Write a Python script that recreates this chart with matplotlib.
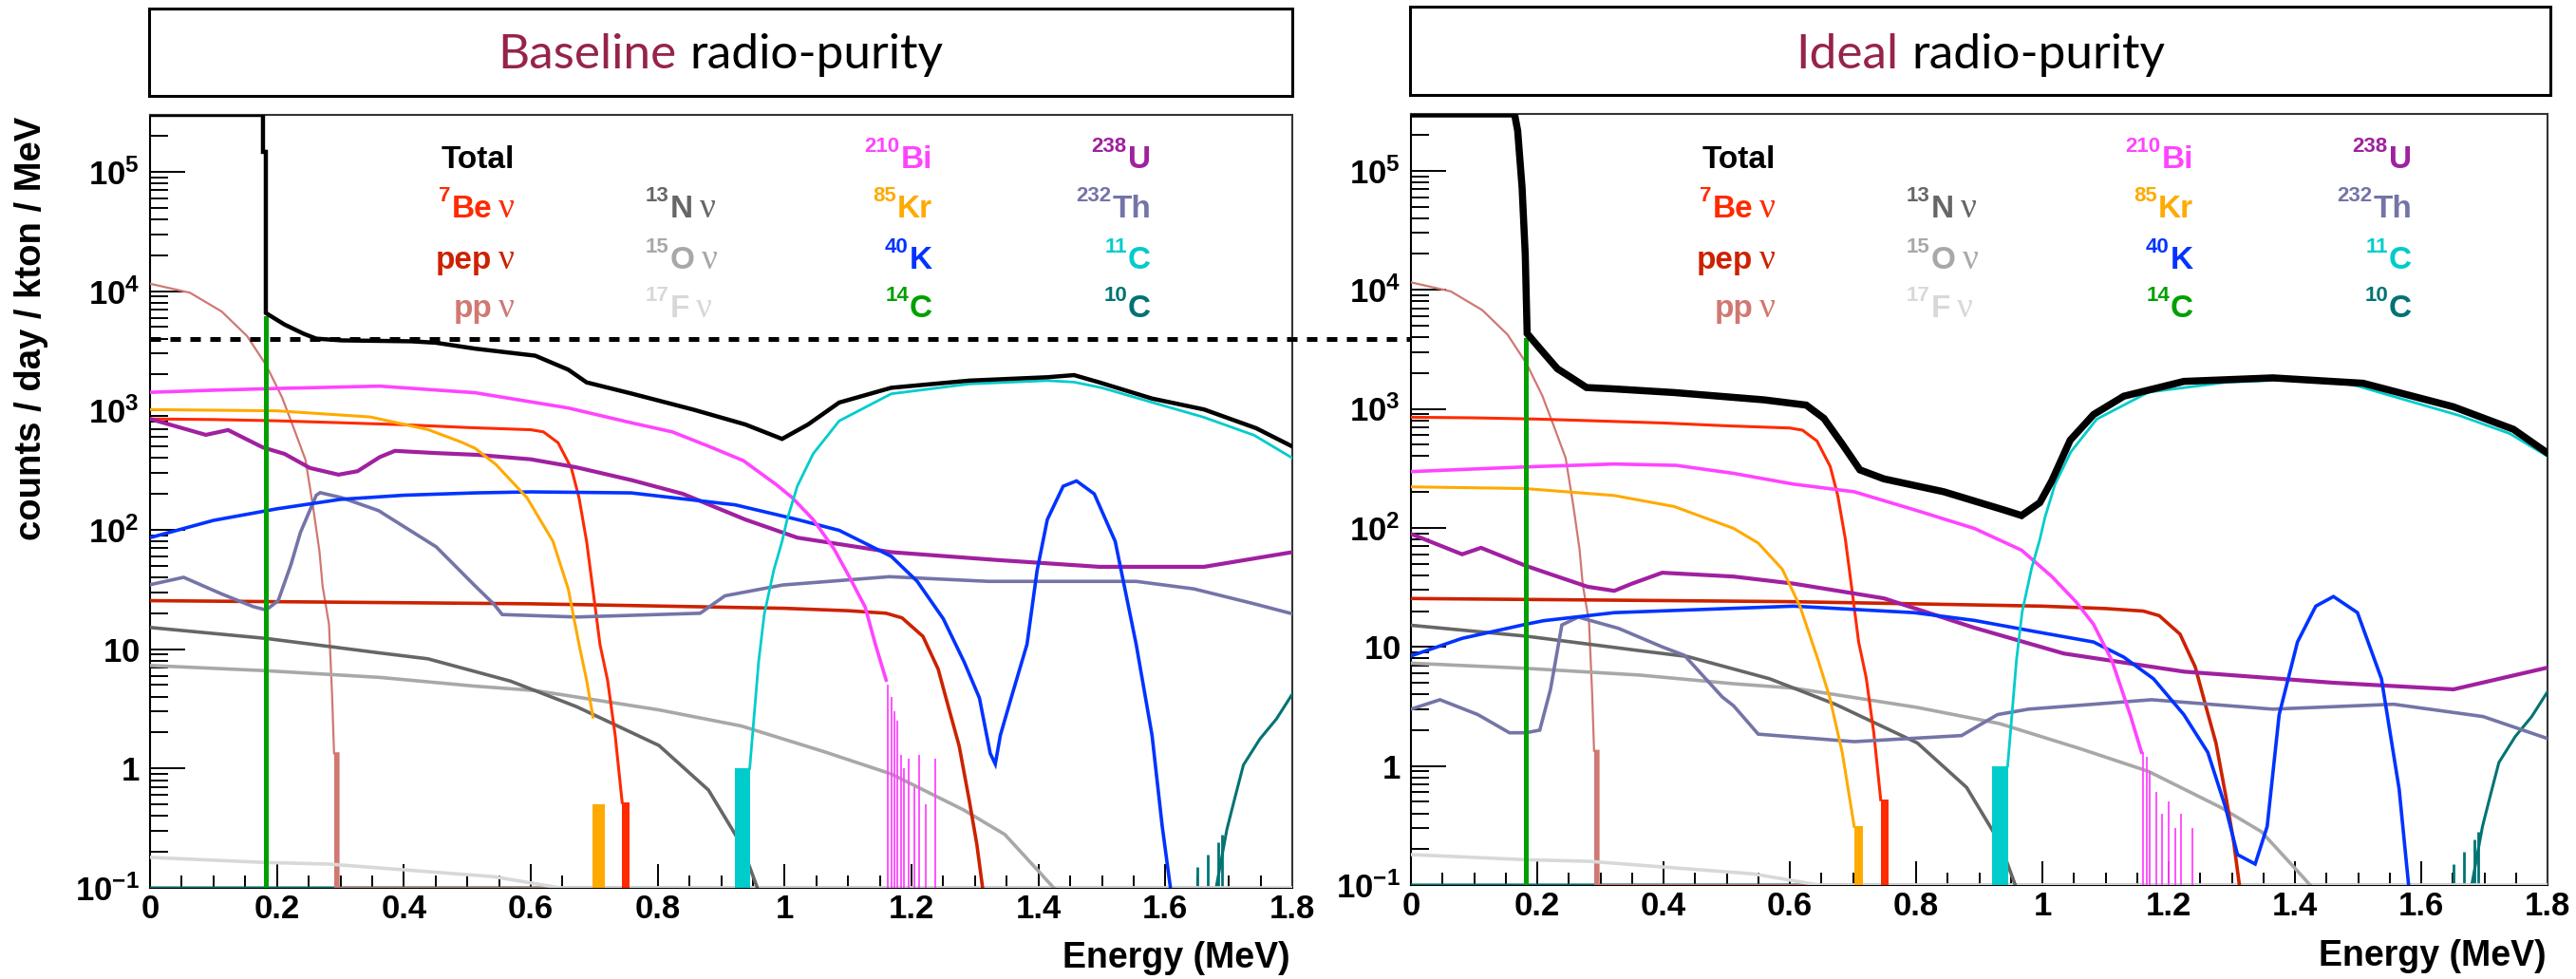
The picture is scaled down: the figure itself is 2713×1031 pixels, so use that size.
import numpy as np
import matplotlib
matplotlib.use('Agg')
import matplotlib.pyplot as plt
from matplotlib.transforms import blended_transform_factory
from matplotlib.ticker import FixedLocator, MultipleLocator, NullFormatter, FixedFormatter
from matplotlib.patches import Rectangle

# ------------------------------------------------------------------ data
# energies in MeV, rates in counts / day / kton / MeV
threshold = 4000.0

# --- species identical in both panels (solar neutrinos, cosmogenics)
be7_E = [0, 0.1, 0.2, 0.3, 0.4, 0.5, 0.6, 0.62, 0.643, 0.664, 0.676, 0.688, 0.700, 0.709, 0.721, 0.733, 0.744]
be7_Y = [850, 840, 820, 790, 760, 720, 690, 662, 537, 328, 186, 80, 26, 11, 5.5, 1.9, 0.52]
be7_block = [0.744, 0.756, 0.52]

pep_E = [0, 0.2, 0.4, 0.6, 0.8, 1.0, 1.1, 1.16, 1.185, 1.218, 1.242, 1.258, 1.275, 1.291, 1.303, 1.312]
pep_Y = [25.5, 25, 24.5, 24, 23, 22, 21, 20, 18.3, 12.8, 6.8, 3.3, 1.55, 0.54, 0.23, 0.1]

pp_E = [0, 0.063, 0.113, 0.153, 0.183, 0.208, 0.227, 0.245, 0.257, 0.267, 0.272, 0.282, 0.287, 0.290, 0.297, 0.297, 1.8]
pp_Y = [11550, 9700, 6750, 4200, 2400, 1290, 700, 386, 155, 66, 33.6, 16.2, 4.0, 1.34, 1.34, 0.1, 0.1]
pp_block = [0.290, 0.297, 1.34]

n13_E = [0, 0.183, 0.362, 0.438, 0.568, 0.672, 0.802, 0.88, 0.932, 0.957]
n13_Y = [15.2, 12.3, 9.3, 8.3, 5.4, 3.3, 1.56, 0.66, 0.23, 0.1]

o15_E = [0, 0.183, 0.362, 0.512, 0.607, 0.802, 0.932, 1.061, 1.168, 1.282, 1.347, 1.399, 1.424]
o15_Y = [7.3, 6.6, 5.8, 4.9, 4.5, 3.1, 2.27, 1.39, 0.9, 0.45, 0.28, 0.14, 0.1]

f17_E = [0, 0.183, 0.283, 0.542, 0.646, 1.8]
f17_Y = [0.18, 0.163, 0.158, 0.124, 0.1, 0.1]

c11_E = [0.945, 0.951, 0.959, 0.968, 0.983, 0.996, 1.004, 1.02, 1.045, 1.086, 1.168, 1.291, 1.414, 1.456, 1.5, 1.58, 1.66, 1.74, 1.8]
c11_Y = [1.0, 2.4, 7.8, 19.7, 46, 80, 122, 232, 434, 818, 1380, 1670, 1780, 1730, 1550, 1166, 880, 620, 400]
c11_block = [0.921, 0.946, 1.0]

c10_E = [0, 1.68, 1.697, 1.71, 1.723, 1.749, 1.775, 1.8]
c10_Y = [0.1, 0.1, 0.31, 0.58, 1.07, 1.77, 2.6, 4.2]
c10_spike_E = [1.651, 1.667, 1.684, 1.690]
c10_spike_Y = [0.15, 0.19, 0.24, 0.28]

# --- Baseline radio-purity panel
total_L_E = [0, 0.178, 0.178, 0.1825, 0.1825, 0.212, 0.242, 0.262, 0.302, 0.412, 0.45, 0.512, 0.607, 0.659, 0.688,
             0.758, 0.856, 0.938, 0.996, 1.037, 1.086, 1.168, 1.291, 1.414, 1.456, 1.496, 1.579, 1.661, 1.743, 1.8]
total_L_Y = [3.0e5, 3.0e5, 1.47e5, 1.47e5, 6560, 5250, 4400, 4000, 3870, 3800, 3700, 3300, 2880, 2200, 1720,
             1390, 1018, 764, 578, 764, 1166, 1550, 1780, 1900, 1980, 1720, 1260, 1020, 711, 500]

bi210_L_E = [0, 0.1, 0.2, 0.362, 0.512, 0.659, 0.758, 0.823, 0.881, 0.935, 0.987, 1.012, 1.045, 1.078, 1.103, 1.127, 1.143, 1.16]
bi210_L_Y = [1420, 1480, 1530, 1600, 1410, 1050, 790, 662, 500, 380, 239, 186, 122, 69, 39.5, 22.5, 11, 5.5]
bi210_L_spike_E = [1.163, 1.168, 1.173, 1.178, 1.183, 1.188, 1.196, 1.204, 1.212, 1.222, 1.238]
bi210_L_spike_Y = [5.0, 4.0, 3.0, 2.5, 1.3, 1.0, 1.2, 0.7, 1.3, 0.5, 1.2]

kr85_L_E = [0, 0.2, 0.347, 0.438, 0.49, 0.512, 0.545, 0.594, 0.635, 0.659, 0.676, 0.688, 0.698]
kr85_L_Y = [1018, 994, 883, 692, 545, 483, 353, 186, 80, 32, 11, 5.5, 2.7]
kr85_L_block = [0.698, 0.717, 0.5]

k40_L_E = [0, 0.1, 0.2, 0.3, 0.4, 0.512, 0.6, 0.758, 0.922, 1.02, 1.086, 1.168, 1.209, 1.25, 1.283, 1.307, 1.324,
           1.332, 1.34, 1.357, 1.382, 1.398, 1.414, 1.439, 1.46, 1.488, 1.521, 1.554, 1.579, 1.595, 1.608]
k40_L_Y = [86, 120, 150, 180, 195, 204, 208, 204, 162, 122, 99, 60, 37, 18, 7.8, 3.9, 1.34,
           1.09, 1.9, 3.9, 11, 46, 122, 232, 257, 200, 80, 11, 1.9, 0.33, 0.1]

u238_L_E = [0, 0.088, 0.123, 0.178, 0.212, 0.252, 0.297, 0.327, 0.362, 0.386, 0.45, 0.516, 0.6, 0.672, 0.76,
            0.84, 0.938, 1.02, 1.168, 1.332, 1.496, 1.661, 1.8]
u238_L_Y = [850, 625, 686, 490, 433, 330, 290, 310, 407, 459, 440, 425, 390, 334, 260,
            200, 122, 86, 65, 56, 49, 49, 65]

th232_L_E = [0, 0.053, 0.113, 0.163, 0.183, 0.202, 0.222, 0.237, 0.262, 0.268, 0.302, 0.36, 0.451, 0.512, 0.542,
             0.555, 0.672, 0.867, 0.906, 0.997, 1.165, 1.321, 1.554, 1.645, 1.74, 1.8]
th232_L_Y = [34.7, 40, 29, 22.7, 21.3, 25.5, 51, 95, 195, 205, 186, 145, 72, 34, 23.8,
             19.5, 18.6, 20, 28, 34.5, 40.5, 37, 37, 32, 24, 19.8]

c14_L_E = [0.1825, 0.1825]
c14_L_Y = [6000, 0.1]

# --- Ideal radio-purity panel
total_R_E = [0, 0.164, 0.169, 0.176, 0.181, 0.184, 0.206, 0.232, 0.251, 0.278, 0.322, 0.417, 0.559, 0.626, 0.654,
             0.683, 0.711, 0.749, 0.844, 0.938, 0.967, 0.996, 1.015, 1.044, 1.081, 1.129, 1.224, 1.365, 1.508,
             1.651, 1.746, 1.8]
total_R_Y = [3.0e5, 3.0e5, 2.17e5, 7.2e4, 1.98e4, 4290, 3130, 2170, 1870, 1510, 1470, 1370, 1190, 1075, 832,
             506, 307, 258, 201, 142, 127, 163, 249, 545, 895, 1277, 1700, 1820, 1640,
             1040, 673, 425]

bi210_R_E = [0, 0.18, 0.322, 0.42, 0.511, 0.606, 0.702, 0.797, 0.892, 0.967, 1.015, 1.053, 1.081, 1.11, 1.139, 1.157]
bi210_R_Y = [297, 325, 344, 335, 287, 233, 201, 142, 99, 65, 39, 24, 15.5, 7.7, 2.7, 1.3]
bi210_R_spike_E = [1.16, 1.165, 1.17, 1.18, 1.19, 1.2, 1.21, 1.22, 1.238]
bi210_R_spike_Y = [1.3, 1.2, 0.9, 0.6, 0.4, 0.5, 0.3, 0.4, 0.3]

kr85_R_E = [0, 0.18, 0.322, 0.417, 0.511, 0.55, 0.588, 0.616, 0.645, 0.663, 0.683, 0.702]
kr85_R_Y = [221, 214, 187, 151, 99, 74.5, 45, 22, 7.7, 3.8, 1.3, 0.31]
kr85_R_block = [0.702, 0.716, 0.31]

k40_R_E = [0, 0.081, 0.182, 0.21, 0.322, 0.606, 0.797, 0.892, 0.987, 1.081, 1.129, 1.176, 1.224, 1.262, 1.29,
           1.309, 1.337, 1.356, 1.375, 1.404, 1.433, 1.461, 1.499, 1.537, 1.565, 1.58]
k40_R_Y = [8.4, 11.8, 15.5, 16.6, 19.4, 22, 19.4, 16.7, 13.5, 11, 8.2, 5.4, 2.7, 1.3, 0.45,
           0.18, 0.15, 0.31, 2.7, 11, 22, 26.5, 19.4, 5.4, 0.64, 0.1]

u238_R_E = [0, 0.081, 0.111, 0.182, 0.232, 0.28, 0.322, 0.35, 0.398, 0.511, 0.606, 0.749, 0.892, 1.034, 1.224,
            1.461, 1.651, 1.8]
u238_R_Y = [89, 60, 68, 48, 39, 32, 29.6, 34, 42, 39, 34, 25.6, 14.5, 8.8, 6.2, 5, 4.4, 6.7]

th232_R_E = [0, 0.046, 0.106, 0.156, 0.182, 0.204, 0.221, 0.239, 0.265, 0.329, 0.398, 0.433, 0.493, 0.511, 0.55,
             0.702, 0.872, 0.929, 0.978, 1.081, 1.173, 1.365, 1.556, 1.698, 1.8]
th232_R_Y = [3.0, 3.6, 2.7, 1.9, 1.9, 2.0, 4.4, 15.3, 17.8, 14.3, 10, 8.5, 3.8, 3.2, 1.85,
             1.6, 1.8, 2.7, 3.0, 3.3, 3.6, 3.0, 3.3, 2.6, 1.7]

c14_R_E = [0.1815, 0.1815]
c14_R_Y = [3770, 0.1]

x_ticks = [0, 0.2, 0.4, 0.6, 0.8, 1.0, 1.2, 1.4, 1.6, 1.8]
x_ticklabels = ['0', '0.2', '0.4', '0.6', '0.8', '1', '1.2', '1.4', '1.6', '1.8']
y_ticks = [0.1, 1, 10, 100, 1e3, 1e4, 1e5]
y_ticklabels = [r'$\mathbf{10^{-1}}$', r'$\mathbf{1}$', r'$\mathbf{10}$', r'$\mathbf{10^{2}}$',
                r'$\mathbf{10^{3}}$', r'$\mathbf{10^{4}}$', r'$\mathbf{10^{5}}$']

titles = [('Baseline', 'radio-purity'), ('Ideal', 'radio-purity')]
y_title = 'counts / day / kton / MeV'
x_title = 'Energy (MeV)'

# ------------------------------------------------------------------ style
C = {
    'total': 'black', 'be7': '#FF2A00', 'pep': '#CC2200', 'pp': '#D07872',
    'n13': '#666666', 'o15': '#A8A8A8', 'f17': '#D8D8D8',
    'bi210': '#FF44FF', 'kr85': '#FFAA00', 'k40': '#0033FF', 'c14': '#00A000',
    'u238': '#A020A0', 'th232': '#7474A8', 'c11': '#00CCCC', 'c10': '#007373',
}
MAROON = '#96234C'
SANS = 'Liberation Sans'
SERIF = 'Liberation Serif'

plt.rcParams['mathtext.fontset'] = 'custom'
plt.rcParams['mathtext.bf'] = 'Liberation Sans:bold'
plt.rcParams['mathtext.rm'] = 'Liberation Sans'
plt.rcParams['font.family'] = [SANS, 'DejaVu Sans']

W, H, DPI = 2713, 1031, 100
fig = plt.figure(figsize=(W / DPI, H / DPI), dpi=DPI)
renderer = fig.canvas.get_renderer()

YMIN, YMAX = 0.1, 3.0e5


def add_axes_px(l, t, r, b):
    return fig.add_axes([l / W, 1 - b / H, (r - l) / W, (b - t) / H])


def line(ax, E, Y, col, lw):
    ax.plot(E, np.clip(Y, YMIN, None), color=col, lw=lw, zorder=3, solid_joinstyle='miter')


def block(ax, blk, col):
    ax.bar(blk[0], blk[2] - YMIN, width=blk[1] - blk[0], bottom=YMIN, align='edge', color=col, lw=0, zorder=3)


def spikes(ax, E, Y, col, lw=1.3):
    ax.vlines(E, YMIN, Y, color=col, lw=lw, zorder=3)


def style_axes(ax):
    ax.set_yscale('log')
    ax.set_xlim(0, 1.8)
    ax.set_ylim(YMIN, YMAX)
    ax.xaxis.set_major_locator(FixedLocator(x_ticks))
    ax.xaxis.set_major_formatter(FixedFormatter(x_ticklabels))
    ax.xaxis.set_minor_locator(MultipleLocator(0.05))
    ax.yaxis.set_major_locator(FixedLocator(y_ticks))
    ax.yaxis.set_major_formatter(FixedFormatter(y_ticklabels))
    minors = [m * 10.0 ** e for e in range(-1, 6) for m in range(2, 10)]
    ax.yaxis.set_minor_locator(FixedLocator(minors))
    ax.yaxis.set_minor_formatter(NullFormatter())
    ax.tick_params(axis='both', which='both', direction='in', width=1.4, color='black',
                   top=False, right=False)
    ax.tick_params(axis='y', which='major', length=26.5, pad=8, labelsize=25)
    ax.tick_params(axis='y', which='minor', length=13.7)
    ax.tick_params(axis='x', which='major', length=18, pad=4, labelsize=25)
    ax.tick_params(axis='x', which='minor', length=9.4)
    for lab in ax.get_xticklabels():
        lab.set_fontweight('bold')
    for s in ['left', 'bottom']:
        ax.spines[s].set_linewidth(1.5)
        ax.spines[s].set_color('black')
    for s in ['top', 'right']:
        ax.spines[s].set_linewidth(1.5)
        ax.spines[s].set_color('#333333')


def draw_panel(ax, total_E, total_Y, total_lw, bi_E, bi_Y, bi_sE, bi_sY, kr_E, kr_Y, kr_blk,
               k_E, k_Y, u_E, u_Y, th_E, th_Y, c14_E, c14_Y):
    style_axes(ax)
    lw = 2.6
    line(ax, c10_E, c10_Y, C['c10'], 2.2)
    spikes(ax, c10_spike_E, c10_spike_Y, C['c10'], 2.0)
    line(ax, pp_E, pp_Y, C['pp'], 1.6)
    block(ax, pp_block, C['pp'])
    line(ax, f17_E, f17_Y, C['f17'], lw)
    line(ax, o15_E, o15_Y, C['o15'], lw)
    line(ax, n13_E, n13_Y, C['n13'], lw)
    line(ax, pep_E, pep_Y, C['pep'], lw)
    line(ax, be7_E, be7_Y, C['be7'], 2.2)
    block(ax, be7_block, C['be7'])
    line(ax, th_E, th_Y, C['th232'], lw)
    line(ax, u_E, u_Y, C['u238'], 3.0)
    line(ax, k_E, k_Y, C['k40'], lw)
    line(ax, kr_E, kr_Y, C['kr85'], 2.2)
    block(ax, kr_blk, C['kr85'])
    line(ax, bi_E, bi_Y, C['bi210'], lw)
    spikes(ax, bi_sE, bi_sY, C['bi210'])
    line(ax, c11_E, c11_Y, C['c11'], 2.0)
    block(ax, c11_block, C['c11'])
    line(ax, c14_E, c14_Y, C['c14'], 3.6)
    line(ax, total_E, total_Y, C['total'], total_lw)


def put_pieces(pieces, x, ybase, align):
    """pieces: (text, size, family, weight, color, rise_px) or a float gap in px.
    x, ybase in figure pixels (y measured from the top)."""
    objs, total = [], 0.0
    for p in pieces:
        if isinstance(p, (int, float)):
            objs.append((None, float(p), 0))
            total += p
            continue
        s, size, fam, wt, col, rise = p
        t = fig.text(0, 0, s, fontsize=size, family=fam, fontweight=wt, color=col,
                     ha='left', va='baseline')
        w = t.get_window_extent(renderer).width
        objs.append((t, w, rise))
        total += w
    if align == 'right':
        cur = x - total
    elif align == 'center':
        cur = x - total / 2
    else:
        cur = x
    for t, w, rise in objs:
        if t is not None:
            t.set_position((cur / W, (H - ybase + rise) / H))
        cur += w


def legend(ax_left_px):
    MAIN, SUP, NU = 24, 16, 27
    rows = [177, 229, 283, 334]
    rise = 17

    def nu(col):
        return [7, ('ν', NU, SERIF, 'normal', col, 0)]

    def iso(a, el, col):
        return [(a, SUP, SANS, 'bold', col, rise), 1, (el, MAIN, SANS, 'bold', col, 0)]

    c1 = ax_left_px + 384
    put_pieces([('Total', MAIN, SANS, 'bold', C['total'], 0)], c1, rows[0], 'right')
    put_pieces(iso('7', 'Be', C['be7']) + nu(C['be7']), c1, rows[1], 'right')
    put_pieces([('pep', MAIN, SANS, 'bold', C['pep'], 0)] + nu(C['pep']), c1, rows[2], 'right')
    put_pieces([('pp', MAIN, SANS, 'bold', C['pp'], 0)] + nu(C['pp']), c1, rows[3], 'right')
    c2 = ax_left_px + 522
    put_pieces(iso('13', 'N', C['n13']) + nu(C['n13']), c2, rows[1], 'left')
    put_pieces(iso('15', 'O', C['o15']) + nu(C['o15']), c2, rows[2], 'left')
    put_pieces(iso('17', 'F', C['f17']) + nu(C['f17']), c2, rows[3], 'left')
    c3 = ax_left_px + 824
    put_pieces(iso('210', 'Bi', C['bi210']), c3, rows[0], 'right')
    put_pieces(iso('85', 'Kr', C['kr85']), c3, rows[1], 'right')
    put_pieces(iso('40', 'K', C['k40']), c3, rows[2], 'right')
    put_pieces(iso('14', 'C', C['c14']), c3, rows[3], 'right')
    c4 = ax_left_px + 1054
    put_pieces(iso('238', 'U', C['u238']), c4, rows[0], 'right')
    put_pieces(iso('232', 'Th', C['th232']), c4, rows[1], 'right')
    put_pieces(iso('11', 'C', C['c11']), c4, rows[2], 'right')
    put_pieces(iso('10', 'C', C['c10']), c4, rows[3], 'right')


# ------------------------------------------------------------------ panels
axL_px = (158, 121, 1361, 935)
axR_px = (1486, 120, 2683, 932)
axL = add_axes_px(*axL_px)
axR = add_axes_px(*axR_px)

draw_panel(axL, total_L_E, total_L_Y, 3.2, bi210_L_E, bi210_L_Y, bi210_L_spike_E, bi210_L_spike_Y,
           kr85_L_E, kr85_L_Y, kr85_L_block, k40_L_E, k40_L_Y, u238_L_E, u238_L_Y,
           th232_L_E, th232_L_Y, c14_L_E, c14_L_Y)
draw_panel(axR, total_R_E, total_R_Y, 5.4, bi210_R_E, bi210_R_Y, bi210_R_spike_E, bi210_R_spike_Y,
           kr85_R_E, kr85_R_Y, kr85_R_block, k40_R_E, k40_R_Y, u238_R_E, u238_R_Y,
           th232_R_E, th232_R_Y, c14_R_E, c14_R_Y)

# dashed threshold line spanning both panels
tr = blended_transform_factory(axL.transAxes, axL.transData)
x_end = (axR_px[2] - axL_px[0]) / (axL_px[2] - axL_px[0])
axL.plot([0, x_end], [threshold, threshold], transform=tr, clip_on=False, color='black',
         lw=3.6, dashes=(2.2, 2.0), zorder=5, solid_capstyle='butt', dash_capstyle='butt')

# title boxes
boxes = [(157, 9, 1361, 101), (1485, 7, 2686, 100)]
for (l, t, r, b), (t1, t2) in zip(boxes, titles):
    fig.patches.append(Rectangle((l / W, 1 - b / H), (r - l) / W, (b - t) / H, transform=fig.transFigure,
                                 fill=False, edgecolor='black', lw=2.2))
    put_pieces([(t1, 37, 'Lato', 'normal', MAROON, 0), 14, (t2, 37, 'Lato', 'normal', 'black', 0)],
               (l + r) / 2, 72, 'center')

# axis titles
fig.text(33 / W, 1 - 123 / H, y_title, rotation=90, ha='center', va='top', fontsize=27.5,
         fontweight='bold', family=SANS)
fig.text(1359 / W, 1 - 1019 / H, x_title, ha='right', va='baseline', fontsize=27, fontweight='bold', family=SANS)
fig.text(2682 / W, 1 - 1017 / H, x_title, ha='right', va='baseline', fontsize=27, fontweight='bold', family=SANS)

legend(axL_px[0])
legend(axR_px[0])

fig.savefig('out.png', dpi=DPI)
